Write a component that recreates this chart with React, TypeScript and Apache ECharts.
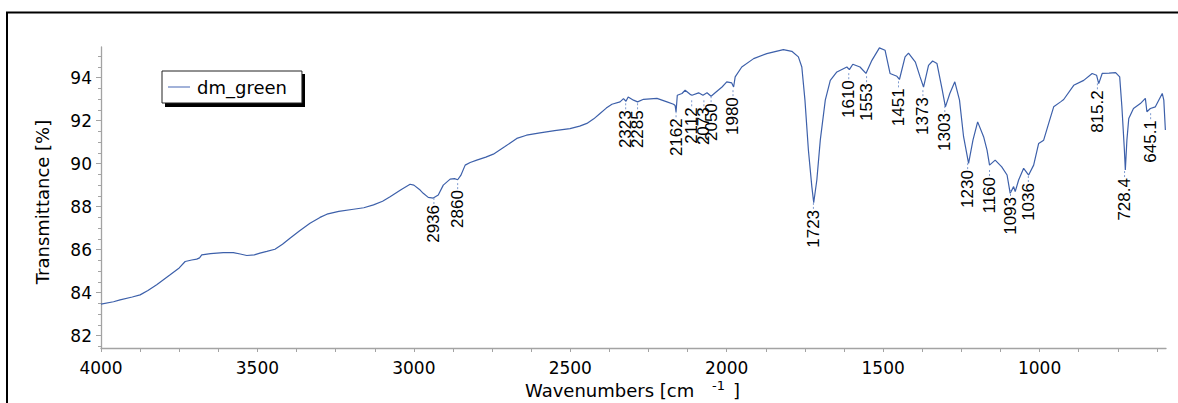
import React, { useEffect, useRef } from "react";
import * as echarts from "echarts";

const wavenumbers = [
  4000, 3960, 3939, 3900, 3875, 3850, 3822, 3779, 3750, 3731, 3710, 3694, 3685, 3678, 3650, 3609, 3577, 3555, 3534, 3510,
  3492, 3470, 3444, 3420, 3396, 3365, 3332, 3300, 3278, 3240, 3193, 3160, 3129, 3100, 3076, 3040, 3012, 3000, 2980, 2970,
  2954, 2938, 2922, 2906, 2884, 2870, 2860, 2850, 2836, 2820, 2799, 2770, 2746, 2710, 2671, 2640, 2597, 2550, 2501, 2470,
  2447, 2425, 2405, 2385, 2367, 2341, 2330, 2322, 2315, 2298, 2285, 2266, 2223, 2191, 2170, 2165, 2162, 2158, 2143, 2133,
  2117, 2111, 2090, 2076, 2063, 2050, 2037, 2015, 2005, 2000, 1984, 1978, 1973, 1952, 1914, 1872, 1819, 1792, 1771, 1760,
  1750, 1739, 1728, 1722, 1712, 1701, 1685, 1669, 1648, 1616, 1608, 1597, 1574, 1555, 1536, 1512, 1494, 1478, 1456, 1448,
  1430, 1419, 1397, 1382, 1371, 1355, 1342, 1328, 1312, 1301, 1287, 1271, 1256, 1243, 1227, 1213, 1198, 1179, 1168, 1160,
  1142, 1121, 1104, 1094, 1083, 1078, 1067, 1051, 1035, 1019, 1003, 987, 971, 955, 933, 923, 891, 859, 832, 818,
  811, 800, 778, 757, 744, 737, 729, 726, 721, 715, 700, 678, 662, 657, 646, 630, 608, 603, 598,
];

const transmittance = [
  83.47, 83.58, 83.67, 83.8, 83.9, 84.1, 84.37, 84.83, 85.15, 85.45, 85.52, 85.56, 85.62, 85.76, 85.82, 85.86, 85.86, 85.8, 85.73, 85.76,
  85.84, 85.92, 86.02, 86.25, 86.53, 86.88, 87.23, 87.5, 87.65, 87.78, 87.88, 87.95, 88.08, 88.25, 88.46, 88.8, 89.04, 89.0, 88.77, 88.62,
  88.43, 88.4, 88.54, 89.0, 89.28, 89.3, 89.25, 89.45, 89.93, 90.05, 90.16, 90.3, 90.44, 90.78, 91.17, 91.32, 91.43, 91.53, 91.63, 91.74,
  91.87, 92.08, 92.33, 92.58, 92.76, 92.87, 93.02, 92.9, 93.1, 92.95, 92.87, 92.99, 93.03, 92.87, 92.76, 92.7, 92.4, 93.18, 93.26, 93.41,
  93.22, 93.18, 93.29, 93.18, 93.29, 93.13, 93.29, 93.56, 93.72, 93.8, 93.75, 93.56, 94.03, 94.49, 94.88, 95.11, 95.3, 95.22, 94.96, 94.49,
  92.95, 90.63, 88.93, 88.18, 89.24, 91.09, 92.95, 93.87, 94.26, 94.49, 94.37, 94.62, 94.49, 94.19, 94.8, 95.38, 95.27, 94.19, 94.06, 93.91,
  94.96, 95.14, 94.72, 94.03, 93.56, 94.57, 94.77, 94.65, 93.49, 92.64, 93.26, 93.8, 92.95, 91.25, 90.01, 91.09, 91.94, 91.25, 90.63, 89.93,
  90.16, 89.85, 89.47, 88.62, 88.93, 88.7, 89.24, 89.78, 89.47, 89.93, 90.94, 91.09, 91.87, 92.64, 92.87, 92.98, 93.64, 93.87, 94.19, 94.11,
  93.72, 94.19, 94.21, 94.23, 94.03, 92.64, 90.63, 89.7, 91.09, 92.1, 92.56, 92.79, 93.03, 92.41, 92.56, 92.64, 93.26, 92.95, 91.56,
];

const peakLabels = [
  "2936", "2860", "2323", "2285", "2162", "2112", "2073", "2050", "1980", "1723", "1610",
  "1553", "1451", "1373", "1303", "1230", "1160", "1093", "1036", "815.2", "728.4", "645.1",
];
const peakWavenumbers = [
  2936, 2860, 2323, 2285, 2162, 2112, 2073, 2050, 1980, 1723, 1610,
  1553, 1451, 1373, 1303, 1230, 1160, 1093, 1036, 815.2, 728.4, 645.1,
];
const peakTransmittance = [
  88.45, 89.14, 92.85, 92.85, 92.48, 92.99, 92.99, 93.18, 93.46, 88.22, 94.25,
  94.11, 93.87, 93.46, 92.72, 90.07, 89.75, 88.82, 89.47, 93.78, 89.7, 92.39,
];

const xMajorTicks = [4000, 3500, 3000, 2500, 2000, 1500, 1000];
const xMinorTicks = [
  3875, 3750, 3625, 3375, 3250, 3125, 2875, 2750, 2625, 2375, 2250, 2125,
  1875, 1750, 1625, 1375, 1250, 1125, 875, 750, 625,
];
const yMajorTicks = [82, 84, 86, 88, 90, 92, 94];
const yMinorTicks = [
  81.5, 82.5, 83, 83.5, 84.5, 85, 85.5, 86.5, 87, 87.5, 88.5, 89, 89.5,
  90.5, 91, 91.5, 92.5, 93, 93.5, 94.5, 95,
];

const X_MIN = 596;
const X_MAX = 4000;
const Y_MIN = 81.43;
const Y_MAX = 95.42;

const seriesName = "dm_green";
const LINE_COLOR = "#3d60aa";
const AXIS_COLOR = "#a3a3a3";
const TICK_FONT = "DejaVu Sans";

export default function App() {
  const ref = useRef<HTMLDivElement>(null);

  useEffect(() => {
    if (!ref.current) return;
    const chart = echarts.init(ref.current, undefined, { renderer: "svg" });

    const lineData = wavenumbers.map((w, i) => [w, transmittance[i]]);
    const peakData = peakWavenumbers.map((w, i) => [w, peakTransmittance[i]]);

    const baseX = {
      type: "value",
      min: X_MIN,
      max: X_MAX,
      inverse: true,
      position: "bottom",
      splitLine: { show: false },
    };
    const baseY = {
      type: "value",
      min: Y_MIN,
      max: Y_MAX,
      position: "left",
      splitLine: { show: false },
    };

    chart.setOption({
      animation: false,
      backgroundColor: "#ffffff",
      grid: { left: 101, right: 12, top: 47, bottom: 55, containLabel: false },
      legend: {
        data: [{ name: seriesName, icon: "rect" }],
        left: 162,
        top: 71,
        itemWidth: 22,
        itemHeight: 1.3,
        itemGap: 0,
        padding: [7, 15, 7, 6],
        backgroundColor: "#ffffff",
        borderColor: "#222222",
        borderWidth: 1,
        itemStyle: { color: "#7088c4" },
        textStyle: { fontSize: 18, fontFamily: TICK_FONT, color: "#000000", padding: [0, 0, 0, 2] },
      },
      xAxis: [
        {
          ...baseX,
          axisLine: { show: true, onZero: false, lineStyle: { color: AXIS_COLOR, width: 1.3 } },
          axisTick: { show: true, length: 4, customValues: xMajorTicks, lineStyle: { color: AXIS_COLOR } },
          axisLabel: {
            show: true,
            customValues: xMajorTicks,
            formatter: (v: number) => String(v),
            margin: 11,
            fontSize: 17,
            fontFamily: TICK_FONT,
            color: "#000000",
          },
        },
        {
          ...baseX,
          axisLine: { show: false, onZero: false },
          axisTick: { show: true, length: 4, customValues: xMinorTicks, lineStyle: { color: AXIS_COLOR } },
          axisLabel: { show: false },
        },
      ],
      yAxis: [
        {
          ...baseY,
          axisLine: { show: true, onZero: false, lineStyle: { color: AXIS_COLOR, width: 1.3 } },
          axisTick: { show: true, length: 5, customValues: yMajorTicks, lineStyle: { color: AXIS_COLOR } },
          axisLabel: {
            show: true,
            customValues: yMajorTicks,
            formatter: (v: number) => String(v),
            margin: 9,
            fontSize: 17,
            fontFamily: TICK_FONT,
            color: "#000000",
          },
        },
        {
          ...baseY,
          axisLine: { show: false, onZero: false },
          axisTick: { show: true, length: 3, customValues: yMinorTicks, lineStyle: { color: AXIS_COLOR } },
          axisLabel: { show: false },
        },
      ],
      series: [
        {
          name: seriesName,
          type: "line",
          xAxisIndex: 0,
          yAxisIndex: 0,
          data: lineData,
          symbol: "none",
          showSymbol: false,
          smooth: false,
          lineStyle: { color: LINE_COLOR, width: 1.2 },
          itemStyle: { color: LINE_COLOR },
          z: 3,
        },
        {
          name: "peaks",
          type: "custom",
          xAxisIndex: 0,
          yAxisIndex: 0,
          data: peakData,
          clip: false,
          silent: true,
          z: 4,
          renderItem: (params: any, api: any) => {
            const i = params.dataIndex;
            const p = api.coord([api.value(0), api.value(1)]);
            return {
              type: "group",
              children: [
                {
                  type: "line",
                  shape: { x1: p[0], y1: p[1] + 1, x2: p[0], y2: p[1] + 7 },
                  style: { stroke: "#7f9bd0", lineWidth: 1, lineDash: [2, 2] },
                },
                {
                  type: "text",
                  x: p[0],
                  y: p[1] + 8,
                  rotation: Math.PI / 2,
                  style: {
                    text: peakLabels[i],
                    align: "right",
                    verticalAlign: "middle",
                    fontSize: 17,
                    fontFamily: "Liberation Sans, Arial, sans-serif",
                    fill: "#000000",
                  },
                },
              ],
            };
          },
        },
      ],
      graphic: [
        {
          type: "rect",
          z: 0,
          shape: { x: 7, y: 12.5, width: 1300, height: 600 },
          style: { fill: "none", stroke: "#000000", lineWidth: 2 },
        },
        {
          type: "rect",
          z: 1,
          shape: { x: 165, y: 74, width: 140, height: 33 },
          style: { fill: "#000000" },
        },
        {
          type: "text",
          x: 42.5,
          y: 202,
          rotation: Math.PI / 2,
          style: {
            text: "Transmittance [%]",
            align: "center",
            verticalAlign: "middle",
            fontSize: 18,
            fontFamily: TICK_FONT,
            fill: "#000000",
          },
        },
        {
          type: "text",
          x: 525,
          y: 390,
          style: {
            text: "Wavenumbers [cm",
            align: "left",
            verticalAlign: "middle",
            fontSize: 18,
            fontFamily: TICK_FONT,
            fill: "#000000",
          },
        },
        {
          type: "text",
          x: 712,
          y: 385,
          style: {
            text: "-1",
            align: "left",
            verticalAlign: "middle",
            fontSize: 13,
            fontFamily: TICK_FONT,
            fill: "#000000",
          },
        },
        {
          type: "text",
          x: 733,
          y: 390,
          style: {
            text: "]",
            align: "left",
            verticalAlign: "middle",
            fontSize: 18,
            fontFamily: TICK_FONT,
            fill: "#000000",
          },
        },
      ],
    });

    return () => chart.dispose();
  }, []);

  return (
    <div
      ref={ref}
      style={{ position: "fixed", left: 0, top: 0, width: 1178, height: 403, background: "#fff" }}
    />
  );
}
